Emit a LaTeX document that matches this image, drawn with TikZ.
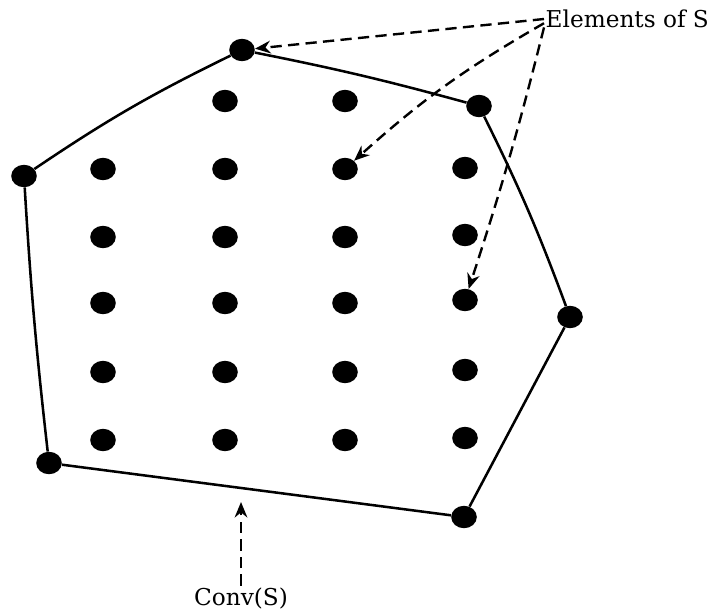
\documentclass[tikz,border=0pt]{standalone}
\usepackage{fontspec}
\setmainfont{DejaVu Serif}
\usetikzlibrary{shapes.geometric,arrows.meta}
\begin{document}
\begin{tikzpicture}[x=0.025cm,y=-0.025cm,
  dot/.style={ellipse,fill=black,inner sep=0pt,minimum width=0.64cm,minimum height=0.56cm},
  hull/.style={line width=1.8pt},
  pointer/.style={dash pattern=on 8pt off 4.5pt,line width=1.7pt,-{Stealth[length=11pt,width=9pt]}},
  lbl/.style={font=\fontsize{16.5}{19}\selectfont,inner sep=1pt}]
\useasboundingbox (0,0) rectangle (716,612);
% hull vertices
\node[dot] (p1) at (242,50) {};
\node[dot] (p2) at (479,106) {};
\node[dot] (p3) at (570,317) {};
\node[dot] (p4) at (464,517) {};
\node[dot] (p5) at (49,463) {};
\node[dot] (p6) at (24,176) {};
% interior dots
\node[dot] (a1) at (225,101) {};
\node[dot] (a2) at (345,101) {};
\foreach \y [count=\r] in {169,237,303,372,440} {
  \node[dot] (b\r) at (103,\y) {};
  \node[dot] (c\r) at (225,\y) {};
  \node[dot] (d\r) at (345,\y) {};
}
\foreach \y [count=\r] in {168,235,300,370,438} {
  \node[dot] (e\r) at (465,\y) {};
}
% hull edges
\draw[hull] (p6) to[bend left=4] (p1);
\draw[hull] (p1) to[bend left=2] (p2);
\draw[hull] (p2) to[bend left=3] (p3);
\draw[hull] (p3) -- (p4);
\draw[hull] (p4) -- (p5);
\draw[hull] (p5) to[bend left=1.5] (p6);
% labels
\node[lbl,anchor=west] (els) at (544,19) {Elements of S};
\node[lbl] (conv) at (241,598) {Conv(S)};
\coordinate (c0) at (241,502);
% pointers
\draw[pointer] (els.west) -- (p1);
\draw[pointer] ([yshift=-3pt]els.west) to[bend right=6] (d1);
\draw[pointer] ([yshift=-6pt]els.west) to[bend left=2] (e3);
\draw[pointer] (conv.north) -- (c0);
\end{tikzpicture}
\end{document}
